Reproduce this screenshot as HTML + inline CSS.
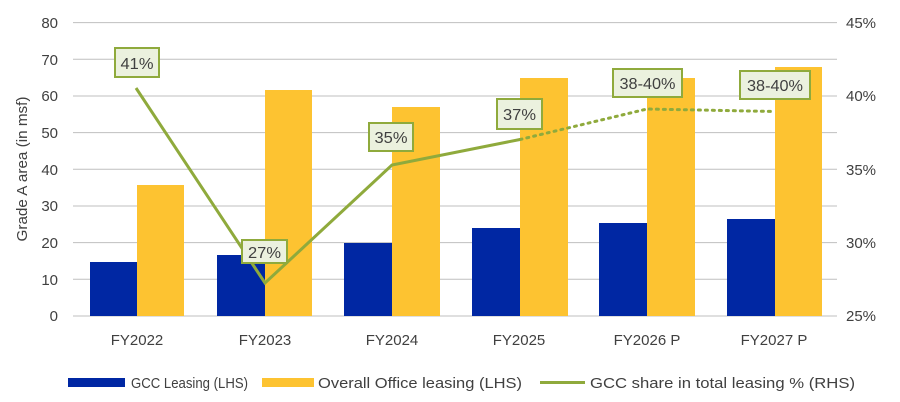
<!DOCTYPE html>
<html><head><meta charset="utf-8"><style>
body{margin:0;background:#fff;}
svg{display:block;font-family:"Liberation Sans",Calibri,sans-serif;}
</style></head><body>
<svg width="900" height="402" xmlns="http://www.w3.org/2000/svg">
<rect width="900" height="402" fill="#fff"/>
<g stroke="#bfbfbf" stroke-width="1">
<line x1="73" y1="22.6" x2="837" y2="22.6"/>
<line x1="73" y1="59.3" x2="837" y2="59.3"/>
<line x1="73" y1="96" x2="837" y2="96"/>
<line x1="73" y1="132.6" x2="837" y2="132.6"/>
<line x1="73" y1="169.3" x2="837" y2="169.3"/>
<line x1="73" y1="206" x2="837" y2="206"/>
<line x1="73" y1="242.6" x2="837" y2="242.6"/>
<line x1="73" y1="279.3" x2="837" y2="279.3"/>
<line x1="73" y1="316" x2="837" y2="316"/>
</g>
<g fill="#0027a3">
<rect x="90" y="262" width="47" height="54"/>
<rect x="217" y="255" width="48" height="61"/>
<rect x="344" y="243" width="48" height="73"/>
<rect x="472" y="228" width="48" height="88"/>
<rect x="599" y="223" width="48" height="93"/>
<rect x="727" y="219" width="48" height="97"/>
</g>
<g fill="#fdc331">
<rect x="137" y="185" width="47" height="131"/>
<rect x="265" y="90" width="47" height="226"/>
<rect x="392" y="107" width="48" height="209"/>
<rect x="520" y="78" width="48" height="238"/>
<rect x="647" y="78" width="48" height="238"/>
<rect x="775" y="67" width="47" height="249"/>
</g>
<polyline points="136,88 265,283 392,165 520,139.5" fill="none" stroke="#8faa3c" stroke-width="3"/>
<polyline points="520,139.5 647,109 775,111.5" fill="none" stroke="#8faa3c" stroke-width="3" stroke-dasharray="2,5" stroke-linecap="round"/>
<g fill="#ebf1de" stroke="#8faa3c" stroke-width="2">
<rect x="115" y="48" width="44" height="29"/>
<rect x="242" y="240" width="45" height="23"/>
<rect x="369" y="123" width="44" height="28"/>
<rect x="497" y="99" width="45" height="30"/>
<rect x="613" y="69" width="69" height="28"/>
<rect x="740" y="71" width="70" height="28"/>
</g>
<g fill="#404040" font-size="16" text-anchor="middle">
<text x="137" y="69" textLength="33" lengthAdjust="spacingAndGlyphs">41%</text>
<text x="264.5" y="258" textLength="33" lengthAdjust="spacingAndGlyphs">27%</text>
<text x="391" y="143" textLength="33" lengthAdjust="spacingAndGlyphs">35%</text>
<text x="519.5" y="120" textLength="33" lengthAdjust="spacingAndGlyphs">37%</text>
<text x="647.5" y="89" textLength="56" lengthAdjust="spacingAndGlyphs">38-40%</text>
<text x="775" y="91" textLength="56" lengthAdjust="spacingAndGlyphs">38-40%</text>
</g>
<g fill="#404040" font-size="15" text-anchor="end">
<text x="58" y="28">80</text><text x="58" y="65">70</text><text x="58" y="101">60</text>
<text x="58" y="138">50</text><text x="58" y="175">40</text><text x="58" y="211">30</text>
<text x="58" y="248">20</text><text x="58" y="285">10</text><text x="58" y="321">0</text>
</g>
<g fill="#404040" font-size="15" text-anchor="start">
<text x="846" y="28">45%</text><text x="846" y="101">40%</text><text x="846" y="175">35%</text>
<text x="846" y="248">30%</text><text x="846" y="321">25%</text>
</g>
<g fill="#404040" font-size="15" text-anchor="middle">
<text x="137" y="345">FY2022</text><text x="265" y="345">FY2023</text><text x="392" y="345">FY2024</text>
<text x="519" y="345">FY2025</text><text x="647" y="345">FY2026 P</text><text x="774" y="345">FY2027 P</text>
</g>
<text transform="translate(27,169) rotate(-90)" fill="#404040" font-size="15" text-anchor="middle" textLength="145" lengthAdjust="spacingAndGlyphs">Grade A area (in msf)</text>
<rect x="68" y="378" width="57" height="9" fill="#0027a3"/>
<text x="131" y="388" fill="#404040" font-size="15" textLength="117" lengthAdjust="spacingAndGlyphs">GCC Leasing (LHS)</text>
<rect x="262" y="378" width="52" height="9" fill="#fdc331"/>
<text x="318" y="388" fill="#404040" font-size="15" textLength="204" lengthAdjust="spacingAndGlyphs">Overall Office leasing (LHS)</text>
<line x1="540" y1="382.5" x2="585" y2="382.5" stroke="#8faa3c" stroke-width="3"/>
<text x="590" y="388" fill="#404040" font-size="15" textLength="265" lengthAdjust="spacingAndGlyphs">GCC share in total leasing % (RHS)</text>
</svg>
</body></html>
